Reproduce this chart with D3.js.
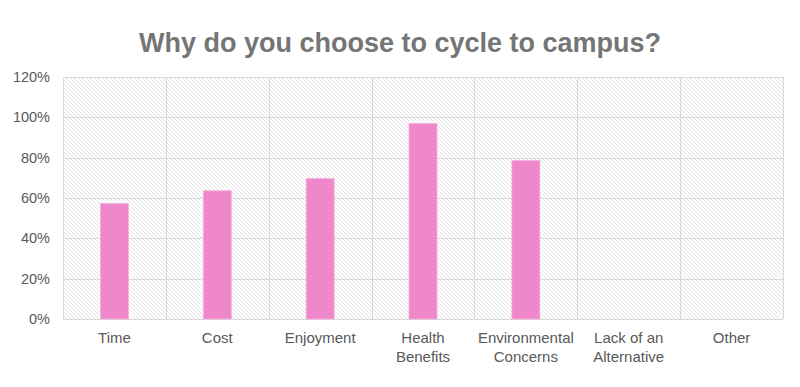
<!DOCTYPE html>
<html>
<head>
<meta charset="utf-8">
<script src="https://cdn.jsdelivr.net/npm/d3@7"></script>
<style>
  body { margin: 0; background: #fff; }
  svg { display: block; font-family: "Liberation Sans", Arial, sans-serif; }
</style>
</head>
<body>
<svg width="800" height="387"></svg>
<script>
// data
var categories = ["Time", "Cost", "Enjoyment", "Health Benefits", "Environmental Concerns", "Lack of an Alternative", "Other"];
var labelLines = [["Time"], ["Cost"], ["Enjoyment"], ["Health", "Benefits"], ["Environmental", "Concerns"], ["Lack of an", "Alternative"], ["Other"]];
var values = [0.573, 0.636, 0.696, 0.970, 0.786, 0, 0];
var yTicks = [0, 0.2, 0.4, 0.6, 0.8, 1.0, 1.2];

var svg = d3.select("svg");
// plot edges (note: "top" is reserved on window, so use plot* names)
var plotL = 63, plotR = 783, plotT = 77, plotB = 319;

var x = d3.scaleBand().domain(categories).range([plotL, plotR]).paddingInner(0).paddingOuter(0);
var y = d3.scaleLinear().domain([0, 1.2]).range([plotB, plotT]);

// hatch pattern for plot background
var defs = svg.append("defs");
var pat = defs.append("pattern")
    .attr("id", "hatch")
    .attr("patternUnits", "userSpaceOnUse")
    .attr("width", 4).attr("height", 4);
pat.append("rect").attr("width", 4).attr("height", 4).attr("fill", "#fff");
pat.append("path")
    .attr("d", "M-1,-1 L5,5 M-1,3 L1,5 M3,-1 L5,1")
    .attr("stroke", "#dcdcdc")
    .attr("stroke-width", 0.8);

svg.append("rect")
    .attr("x", plotL).attr("y", plotT)
    .attr("width", plotR - plotL).attr("height", plotB - plotT)
    .attr("fill", "url(#hatch)");

// horizontal gridlines
svg.append("g").selectAll("line")
    .data(yTicks)
    .enter().append("line")
    .attr("x1", plotL).attr("x2", plotR)
    .attr("y1", function(d) { return Math.round(y(d)) + 0.5; })
    .attr("y2", function(d) { return Math.round(y(d)) + 0.5; })
    .attr("stroke", "#d9d9d9").attr("stroke-width", 1);

// vertical category separators
var seps = categories.map(function(c) { return x(c); }).concat([plotR]);
svg.append("g").selectAll("line")
    .data(seps)
    .enter().append("line")
    .attr("x1", function(d) { return Math.round(d) + 0.5; })
    .attr("x2", function(d) { return Math.round(d) + 0.5; })
    .attr("y1", plotT).attr("y2", plotB)
    .attr("stroke", "#d9d9d9").attr("stroke-width", 1);

// bars
var barW = 28;
svg.append("g").selectAll("rect")
    .data(values)
    .enter().append("rect")
    .filter(function(d) { return d > 0; })
    .attr("x", function(d, i) { return x(categories[i]) + x.bandwidth() / 2 - barW / 2; })
    .attr("y", function(d) { return y(d); })
    .attr("width", barW)
    .attr("height", function(d) { return y(0) - y(d); })
    .attr("fill", "#ee88cb")
    .attr("stroke", "#f3b0dc")
    .attr("stroke-width", 0.8);

// y axis labels
var yAxis = d3.axisLeft(y).tickValues(yTicks).tickFormat(d3.format(".0%")).tickSize(0).tickPadding(13);
var gy = svg.append("g").attr("transform", "translate(" + plotL + ",0)").call(yAxis);
gy.select(".domain").remove();
gy.selectAll("text").attr("fill", "#595959").style("font-size", "14.5px");

// x axis labels
var xAxis = d3.axisBottom(x).tickSize(0).tickFormat("");
var gx = svg.append("g").attr("transform", "translate(0," + plotB + ")").call(xAxis);
gx.select(".domain").remove();
gx.selectAll(".tick").each(function(d, i) {
  var t = d3.select(this).append("text")
      .attr("fill", "#595959")
      .attr("text-anchor", "middle")
      .style("font-size", "15px")
      .attr("y", 24);
  labelLines[i].forEach(function(line, j) {
    t.append("tspan").attr("x", 0).attr("dy", j === 0 ? 0 : 18.5).text(line);
  });
});

// title
svg.append("text")
    .attr("x", 400).attr("y", 52)
    .attr("text-anchor", "middle")
    .attr("fill", "#757575")
    .style("font-size", "27px")
    .style("font-weight", "bold")
    .text("Why do you choose to cycle to campus?");
</script>
</body>
</html>
